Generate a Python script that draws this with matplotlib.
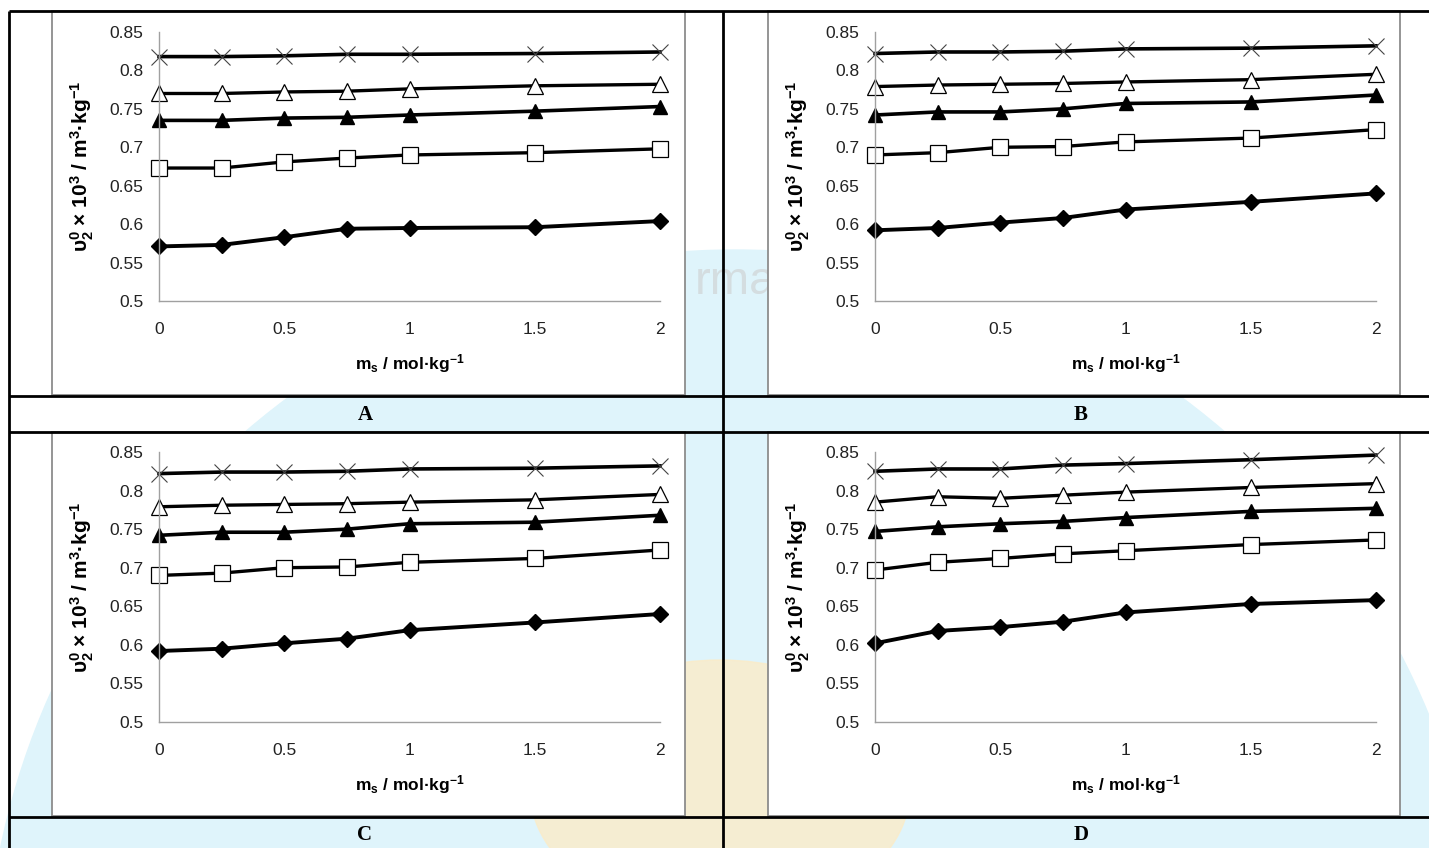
import matplotlib
matplotlib.use("Agg")
import matplotlib.pyplot as plt
from matplotlib.patches import Rectangle, Circle, Ellipse

W, H = 1429, 848

# molality of salt
ms = [0, 0.25, 0.5, 0.75, 1, 1.5, 2]
x_ticks = [0, 0.5, 1, 1.5, 2]
y_ticks = [0.5, 0.55, 0.6, 0.65, 0.7, 0.75, 0.8, 0.85]

# panel A
a_cross = [0.818, 0.818, 0.819, 0.821, 0.821, 0.822, 0.824]
a_tri_open = [0.770, 0.770, 0.772, 0.773, 0.776, 0.780, 0.782]
a_tri_fill = [0.735, 0.735, 0.738, 0.739, 0.742, 0.747, 0.753]
a_square = [0.673, 0.673, 0.681, 0.686, 0.690, 0.693, 0.698]
a_diamond = [0.571, 0.573, 0.583, 0.594, 0.595, 0.596, 0.604]

# panel B
b_cross = [0.822, 0.824, 0.824, 0.825, 0.828, 0.829, 0.832]
b_tri_open = [0.779, 0.781, 0.782, 0.783, 0.785, 0.788, 0.795]
b_tri_fill = [0.742, 0.746, 0.746, 0.750, 0.757, 0.759, 0.768]
b_square = [0.690, 0.693, 0.700, 0.701, 0.707, 0.712, 0.723]
b_diamond = [0.592, 0.595, 0.602, 0.608, 0.619, 0.629, 0.640]

# panel C
c_cross = [0.822, 0.824, 0.824, 0.825, 0.828, 0.829, 0.832]
c_tri_open = [0.779, 0.781, 0.782, 0.783, 0.785, 0.788, 0.795]
c_tri_fill = [0.742, 0.746, 0.746, 0.750, 0.757, 0.759, 0.768]
c_square = [0.690, 0.693, 0.700, 0.701, 0.707, 0.712, 0.723]
c_diamond = [0.592, 0.595, 0.602, 0.608, 0.619, 0.629, 0.640]

# panel D
d_cross = [0.825, 0.828, 0.828, 0.833, 0.835, 0.840, 0.846]
d_tri_open = [0.785, 0.792, 0.790, 0.794, 0.798, 0.804, 0.809]
d_tri_fill = [0.747, 0.753, 0.757, 0.760, 0.765, 0.773, 0.777]
d_square = [0.697, 0.707, 0.712, 0.718, 0.722, 0.730, 0.736]
d_diamond = [0.602, 0.618, 0.623, 0.630, 0.642, 0.653, 0.658]

panel_letters = ["A", "B", "C", "D"]

plt.rcParams['font.family'] = ['Liberation Sans', 'DejaVu Sans']
plt.rcParams['mathtext.default'] = 'regular'

fig = plt.figure(figsize=(W / 100, H / 100), dpi=100)
fig.patch.set_facecolor('white')

# background: table grid + faint watermark
bg = fig.add_axes([0, 0, 1, 1])
bg.set_xlim(0, W)
bg.set_ylim(H, 0)
bg.axis('off')
bg.add_patch(Circle((735, 1000), 750, color='#dff4fb', zorder=0))
bg.add_patch(Ellipse((720, 790), 380, 260, color='#fbecc8', alpha=0.8, zorder=0.5))
bg.text(735, 282, 'rma', fontsize=34, color='#d4dde0', ha='center', va='center', zorder=0.6)

frames = [(52, 11, 685, 395), (768, 11, 1400, 395),
          (52, 432, 685, 816), (768, 432, 1400, 816)]
for x0, y0, x1, y1 in frames:
    bg.add_patch(Rectangle((x0, y0), x1 - x0, y1 - y0, facecolor='white',
                           edgecolor='#8c8c8c', lw=1.3, zorder=1))

line_kw = dict(color='black', lw=2, zorder=2, solid_capstyle='butt')
bg.plot([9, W], [11, 11], **line_kw)
bg.plot([9, 9], [11, H], **line_kw)
bg.plot([723, 723], [11, H], **line_kw)
bg.plot([9, W], [396, 396], **line_kw)
bg.plot([9, W], [432, 432], **line_kw)
bg.plot([9, W], [817, 817], **line_kw)

for (cx, cy), letter in zip([(365, 415), (1081, 415), (365, 835), (1081, 835)], panel_letters):
    bg.text(cx, cy, letter, fontsize=15, fontweight='bold', family='Liberation Serif',
            ha='center', va='center', zorder=3)

# plot areas (pixel positions of the data box)
boxes = [(159, 660, 32, 301), (875, 1376, 32, 301),
         (159, 660, 452, 722), (875, 1376, 452, 722)]

panels = [
    (a_cross, a_tri_open, a_tri_fill, a_square, a_diamond),
    (b_cross, b_tri_open, b_tri_fill, b_square, b_diamond),
    (c_cross, c_tri_open, c_tri_fill, c_square, c_diamond),
    (d_cross, d_tri_open, d_tri_fill, d_square, d_diamond),
]

ylab = r'υ$_2^0$ × 10$^3$ / m$^3$·kg$^{-1}$'
xlab = r'm$_s$ / mol·kg$^{-1}$'

for (left, right, top, bottom), series in zip(boxes, panels):
    ax = fig.add_axes([left / W, 1 - bottom / H, (right - left) / W, (bottom - top) / H])
    ax.set_facecolor('none')
    ax.set_xlim(0, 2)
    ax.set_ylim(0.5, 0.85)
    ax.set_xticks(x_ticks)
    ax.set_xticklabels(['0', '0.5', '1', '1.5', '2'])
    ax.set_yticks(y_ticks)
    ax.set_yticklabels(['0.5', '0.55', '0.6', '0.65', '0.7', '0.75', '0.8', '0.85'])
    ax.tick_params(axis='x', length=0, pad=15, labelsize=12.5, labelcolor='#222222')
    ax.tick_params(axis='y', length=0, pad=11, labelsize=12.5, labelcolor='#222222')
    for s in ['top', 'right']:
        ax.spines[s].set_visible(False)
    for s in ['left', 'bottom']:
        ax.spines[s].set_color('#a0a0a0')
        ax.spines[s].set_linewidth(1)

    cross, tri_o, tri_f, sq, dia = series
    ax.plot(ms, cross, color='black', lw=2.6, marker='x', ms=11, mew=0.8,
            mec='#444444', clip_on=False)
    ax.plot(ms, tri_o, color='black', lw=2.4, marker='^', ms=11, mew=0.9,
            mfc='white', mec='black', clip_on=False)
    ax.plot(ms, tri_f, color='black', lw=2.6, marker='^', ms=10.5, mfc='black',
            mec='black', clip_on=False)
    ax.plot(ms, sq, color='black', lw=2.4, marker='s', ms=11, mew=0.9,
            mfc='white', mec='black', clip_on=False)
    ax.plot(ms, dia, color='black', lw=2.8, marker='D', ms=8, mfc='black',
            mec='black', clip_on=False)

    ax.set_ylabel(ylab, fontsize=15, fontweight='bold')
    ax.yaxis.set_label_coords(-0.125, 0.5)
    ax.set_xlabel(xlab, fontsize=12.5, fontweight='bold')
    ax.xaxis.set_label_coords(0.5, -0.19)

fig.savefig('out.png', dpi=100)
